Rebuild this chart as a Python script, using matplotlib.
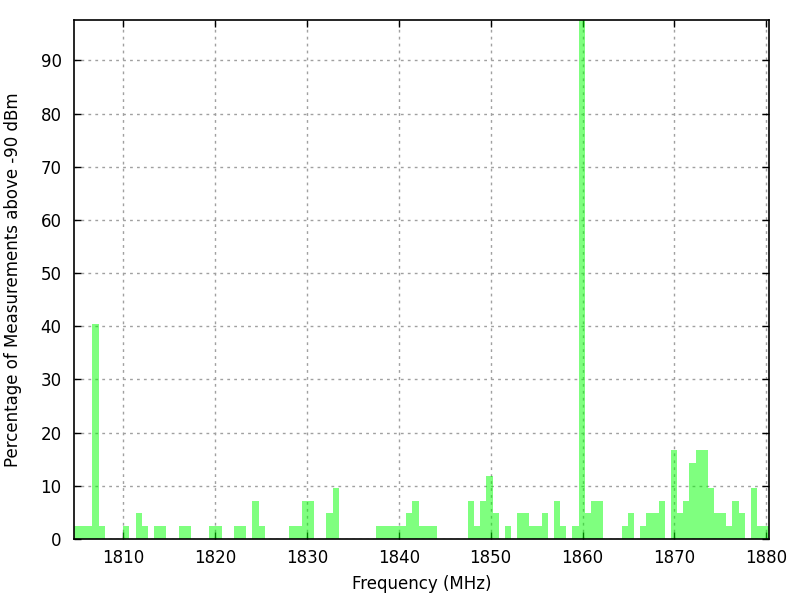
import matplotlib
matplotlib.use("Agg")
import matplotlib.pyplot as plt

# bin centres (MHz) of the non-empty bins
freqs = [1805.00, 1805.67, 1806.34, 1807.01, 1807.68,
         1810.36, 1811.70, 1812.37, 1813.71, 1814.38,
         1816.38, 1817.05, 1819.73, 1820.40, 1822.41, 1823.08,
         1824.42, 1825.09, 1828.44, 1829.11, 1829.78, 1830.45,
         1832.46, 1833.13,
         1837.81, 1838.48, 1839.15, 1839.82, 1840.49, 1841.16, 1841.83,
         1842.50, 1843.17, 1843.84,
         1847.86, 1848.53, 1849.20, 1849.87, 1850.54, 1851.88,
         1853.21, 1853.88, 1854.55, 1855.22, 1855.89, 1857.23, 1857.90,
         1859.24, 1859.91, 1860.58, 1861.25, 1861.92,
         1864.60, 1865.27, 1866.61, 1867.28, 1867.95, 1868.62,
         1869.96, 1870.63, 1871.29, 1871.96, 1872.63, 1873.30, 1873.97,
         1874.64, 1875.31, 1875.98, 1876.65, 1877.32,
         1878.66, 1879.33, 1880.00]

# percentage of measurements above -90 dBm
percent = [2.4, 2.4, 2.4, 40.5, 2.4,
           2.4, 4.8, 2.4, 2.4, 2.4,
           2.4, 2.4, 2.4, 2.4, 2.4, 2.4,
           7.1, 2.4, 2.4, 2.4, 7.1, 7.1,
           4.8, 9.5,
           2.4, 2.4, 2.4, 2.4, 2.4, 4.8, 7.1,
           2.4, 2.4, 2.4,
           7.1, 2.4, 7.1, 11.9, 4.8, 2.4,
           4.8, 4.8, 2.4, 2.4, 4.8, 7.1, 2.4,
           2.4, 97.6, 4.8, 7.1, 7.1,
           2.4, 4.8, 2.4, 4.8, 4.8, 7.1,
           16.7, 4.8, 7.1, 14.3, 16.7, 16.7, 9.5,
           4.8, 4.8, 2.4, 7.1, 4.8,
           9.5, 2.4, 2.4]

bin_width = 0.6696
xticks = [1810, 1820, 1830, 1840, 1850, 1860, 1870, 1880]
yticks = [0, 10, 20, 30, 40, 50, 60, 70, 80, 90]

plt.rcParams['font.family'] = ['DejaVu Sans']

fig = plt.figure(figsize=(8, 6), dpi=100)
ax = fig.add_axes([0.0925, 0.1017, 0.8693, 0.865])

ax.bar(freqs, percent, width=bin_width, color='#00ff00', alpha=0.5,
       linewidth=0, zorder=2)

ax.set_xlim(freqs[0] - bin_width / 2, freqs[-1] + bin_width / 2)
ax.set_ylim(0, max(percent))
ax.set_xticks(xticks)
ax.set_yticks(yticks)

ax.grid(True, color='#a0a0a0', linestyle=(0, (2, 3)), linewidth=1, zorder=1)
ax.set_axisbelow(True)

ax.tick_params(direction='in', length=5, width=1, labelsize=12,
               top=True, right=True, color='black')
ax.tick_params(axis='y', pad=9)
ax.tick_params(axis='x', pad=7)
for s in ax.spines.values():
    s.set_linewidth(1.2)
    s.set_zorder(5)

ax.set_xlabel('Frequency (MHz)', fontsize=12, labelpad=6)
ax.set_ylabel('Percentage of Measurements above -90 dBm', fontsize=12, labelpad=13)

fig.savefig('out.png', dpi=100)
